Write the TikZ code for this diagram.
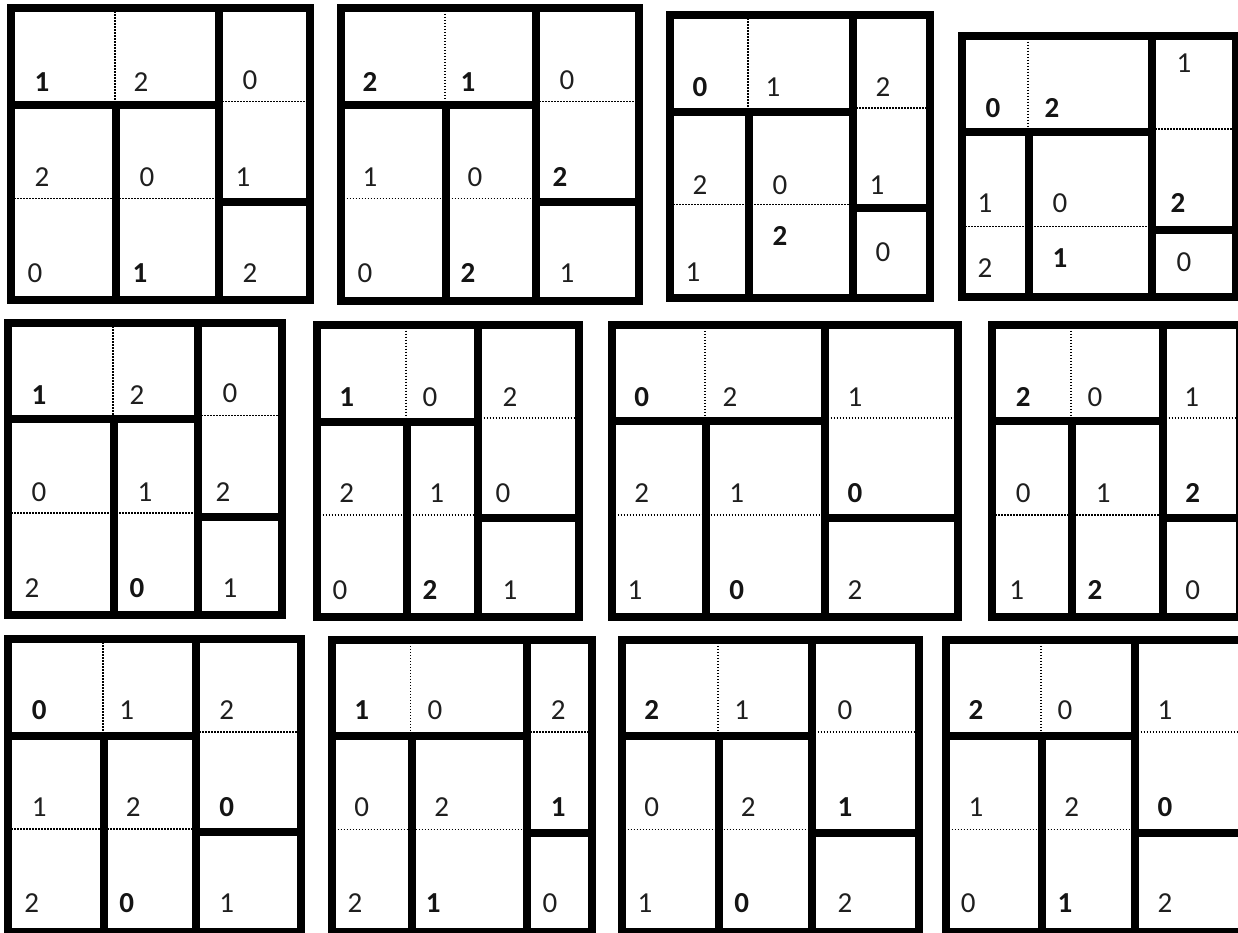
\documentclass[tikz,border=0pt]{standalone}
\usepackage{fontspec}
\setmainfont{Carlito}
\newcommand\panel[9]{%
  \coordinate (#1) at (#2,#3);
  \draw[guide] (#6-1,#3) -- (#6-1,#8);
  \draw[guide] (#2,#9-3.5) -- (#7,#9-3.5);
  \draw[guide] (#7,#8-3.5) -- (#4,#8-3.5);
  \draw[wall] (#2,#8) -- (#7,#8);
  \draw[wall] (#6,#8) -- (#6,#5);
  \draw[wall] (#7,#3) -- (#7,#5);
  \draw[wall] (#7,#9) -- (#4,#9);
  \draw[frame] (#2,#3) rectangle (#4,#5);
}
\newcommand\lbl[5]{\node[#5] (#1) at (#2,#3) {#4};}
\begin{document}
\begin{tikzpicture}[x=1pt,y=-1pt,
  frame/.style={line width=8pt, line join=miter},
  wall/.style={line width=8pt},
  guide/.style={line width=1.8pt, dash pattern=on 1.5pt off 1.5pt, black},
  num/.style={font=\fontsize{29}{34}\selectfont, inner sep=0pt, text=black!88},
  bnum/.style={font=\fontsize{29}{34}\selectfont\bfseries, inner sep=0pt, text=black!92}]
\useasboundingbox (0,0) rectangle (1238,933);
\fill[white] (0,0) rectangle (1238,933);
\clip (0,0) rectangle (1238,933);

% Row 1
\panel{p1}{11}{8.5}{310}{300}{116}{219}{105}{202}
\lbl{p1a}{42}{82}{1}{bnum}
\lbl{p1b}{141}{82}{2}{num}
\lbl{p1c}{250}{80}{0}{num}
\lbl{p1d}{42}{177}{2}{num}
\lbl{p1e}{147}{177}{0}{num}
\lbl{p1f}{243}{177}{1}{num}
\lbl{p1g}{35}{273}{0}{num}
\lbl{p1h}{140}{273}{1}{bnum}
\lbl{p1i}{250}{273}{2}{num}

\panel{p2}{340.5}{8}{639}{301}{446}{536}{105}{202}
\lbl{p2a}{370}{82}{2}{bnum}
\lbl{p2b}{468}{82}{1}{bnum}
\lbl{p2c}{567}{80}{0}{num}
\lbl{p2d}{370}{177}{1}{num}
\lbl{p2e}{475}{177}{0}{num}
\lbl{p2f}{560}{177}{2}{bnum}
\lbl{p2g}{365}{273}{0}{num}
\lbl{p2h}{468}{273}{2}{bnum}
\lbl{p2i}{567}{273}{1}{num}

\panel{p3}{670}{15.5}{930}{298}{749}{853}{111.7}{208}
\lbl{p3a}{700}{87}{0}{bnum}
\lbl{p3b}{773}{87}{1}{num}
\lbl{p3c}{883}{87}{2}{num}
\lbl{p3d}{700}{185}{2}{num}
\lbl{p3e}{780}{185}{0}{num}
\lbl{p3f}{877}{185}{1}{num}
\lbl{p3g}{693}{272}{1}{num}
\lbl{p3h}{780}{236}{2}{bnum}
\lbl{p3i}{883}{252}{0}{num}

\panel{p4}{962}{35.7}{1235.7}{296.7}{1029}{1152}{132.3}{230}
\lbl{p4a}{993}{108}{0}{bnum}
\lbl{p4b}{1052}{108}{2}{bnum}
\lbl{p4c}{1184}{63}{1}{num}
\lbl{p4d}{985}{203}{1}{num}
\lbl{p4e}{1060}{203}{0}{num}
\lbl{p4f}{1178}{203}{2}{bnum}
\lbl{p4g}{985}{268}{2}{num}
\lbl{p4h}{1060}{258}{1}{bnum}
\lbl{p4i}{1184}{262}{0}{num}

% Row 2
\panel{p5}{8.3}{323.3}{282.3}{615}{114}{198}{419}{516.7}
\lbl{p5a}{39}{395}{1}{bnum}
\lbl{p5b}{137}{395}{2}{num}
\lbl{p5c}{230}{393}{0}{num}
\lbl{p5d}{39}{492}{0}{num}
\lbl{p5e}{145}{492}{1}{num}
\lbl{p5f}{223}{492}{2}{num}
\lbl{p5g}{32}{588}{2}{num}
\lbl{p5h}{137}{588}{0}{bnum}
\lbl{p5i}{230}{588}{1}{num}

\panel{p6}{316.7}{324.7}{579}{616.7}{406.7}{477.7}{421.7}{518.3}
\lbl{p6a}{346.7}{396.7}{1}{bnum}
\lbl{p6b}{430}{396.7}{0}{num}
\lbl{p6c}{510}{396.7}{2}{num}
\lbl{p6d}{346.7}{493}{2}{num}
\lbl{p6e}{436.7}{493}{1}{num}
\lbl{p6f}{503}{493}{0}{num}
\lbl{p6g}{340}{590}{0}{num}
\lbl{p6h}{430}{590}{2}{bnum}
\lbl{p6i}{510}{590}{1}{num}

\panel{p7}{611.5}{324.8}{958}{616.7}{705.7}{824.7}{421.3}{518.3}
\lbl{p7a}{641.7}{396.7}{0}{bnum}
\lbl{p7b}{730}{396.7}{2}{num}
\lbl{p7c}{855}{396.7}{1}{num}
\lbl{p7d}{641.7}{493}{2}{num}
\lbl{p7e}{736.7}{493}{1}{num}
\lbl{p7f}{855}{493}{0}{bnum}
\lbl{p7g}{635}{590}{1}{num}
\lbl{p7h}{736.7}{590}{0}{bnum}
\lbl{p7i}{855}{590}{2}{num}

\panel{p8}{992.3}{324.8}{1240}{617}{1072}{1162.7}{421.3}{518.3}
\lbl{p8a}{1023.3}{396.7}{2}{bnum}
\lbl{p8b}{1095}{396.7}{0}{num}
\lbl{p8c}{1191.7}{396.7}{1}{num}
\lbl{p8d}{1023.3}{493}{0}{num}
\lbl{p8e}{1103.3}{493}{1}{num}
\lbl{p8f}{1192.7}{493}{2}{bnum}
\lbl{p8g}{1016.7}{590}{1}{num}
\lbl{p8h}{1095}{590}{2}{bnum}
\lbl{p8i}{1192.7}{590}{0}{num}

% Row 3
\panel{p9}{8.3}{639.2}{301.3}{932}{103.7}{196}{735.7}{832.3}
\lbl{p9a}{39.3}{710}{0}{bnum}
\lbl{p9b}{126.7}{710}{1}{num}
\lbl{p9c}{226.7}{710}{2}{num}
\lbl{p9d}{39.3}{806.7}{1}{num}
\lbl{p9e}{133.3}{806.7}{2}{num}
\lbl{p9f}{226.7}{806.7}{0}{bnum}
\lbl{p9g}{31.7}{903.3}{2}{num}
\lbl{p9h}{126.7}{903.3}{0}{bnum}
\lbl{p9i}{226.7}{903.3}{1}{num}

\panel{p10}{331.5}{639.8}{592.3}{932}{411.5}{527.3}{735.7}{833}
\lbl{p10a}{361.7}{710}{1}{bnum}
\lbl{p10b}{435}{710}{0}{num}
\lbl{p10c}{558.3}{710}{2}{num}
\lbl{p10d}{361.7}{806.7}{0}{num}
\lbl{p10e}{441.7}{806.7}{2}{num}
\lbl{p10f}{558.3}{806.7}{1}{bnum}
\lbl{p10g}{355}{903.3}{2}{num}
\lbl{p10h}{433.3}{903.3}{1}{bnum}
\lbl{p10i}{550}{903.3}{0}{num}

\panel{p11}{621.5}{639.8}{919.2}{932}{719.2}{811.7}{735.7}{833}
\lbl{p11a}{651.7}{710}{2}{bnum}
\lbl{p11b}{741.7}{710}{1}{num}
\lbl{p11c}{845}{710}{0}{num}
\lbl{p11d}{651.7}{806.7}{0}{num}
\lbl{p11e}{748.3}{806.7}{2}{num}
\lbl{p11f}{845}{806.7}{1}{bnum}
\lbl{p11g}{645}{903.3}{1}{num}
\lbl{p11h}{741.7}{903.3}{0}{bnum}
\lbl{p11i}{845}{903.3}{2}{num}

\panel{p12}{945.5}{639.8}{1246}{932}{1042.2}{1134.5}{735.7}{833}
\lbl{p12a}{976}{710}{2}{bnum}
\lbl{p12b}{1065}{710}{0}{num}
\lbl{p12c}{1165}{710}{1}{num}
\lbl{p12d}{976}{806.7}{1}{num}
\lbl{p12e}{1071.7}{806.7}{2}{num}
\lbl{p12f}{1165}{806.7}{0}{bnum}
\lbl{p12g}{968.3}{903.3}{0}{num}
\lbl{p12h}{1065}{903.3}{1}{bnum}
\lbl{p12i}{1165}{903.3}{2}{num}
\end{tikzpicture}
\end{document}
